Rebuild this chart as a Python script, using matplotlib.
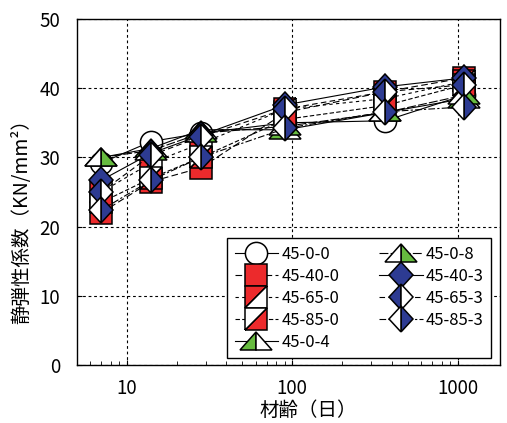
import matplotlib
matplotlib.use("Agg")
import matplotlib.pyplot as plt
from matplotlib.markers import MarkerStyle
from matplotlib.transforms import Affine2D

plt.rcParams['font.family'] = ['Noto Sans CJK JP', 'DejaVu Sans']

# age in days
age = [7, 14, 28, 91, 365, 1095]

# static modulus of elasticity (KN/mm2) per mix
e_45_0_0 = [29.2, 32.3, 33.5, 35.0, 35.3, 39.0]
e_45_40_0 = [22.0, 26.5, 28.5, 36.5, 39.5, 41.5]
e_45_65_0 = [25.0, 29.2, 32.0, 37.0, 38.5, 41.0]
e_45_85_0 = [23.5, 27.0, 30.0, 35.5, 37.5, 40.5]
e_45_0_4 = [30.0, 31.3, 34.0, 34.0, 36.5, 38.5]
e_45_0_8 = [30.0, 31.0, 33.5, 34.5, 36.5, 39.0]
e_45_40_3 = [26.7, 30.6, 33.2, 37.6, 40.2, 41.5]
e_45_65_3 = [25.0, 30.3, 33.0, 37.0, 39.5, 40.5]
e_45_85_3 = [22.4, 26.7, 30.0, 34.2, 36.6, 37.3]

labels = ['45-0-0', '45-40-0', '45-65-0', '45-85-0', '45-0-4',
          '45-0-8', '45-40-3', '45-65-3', '45-85-3']

RED = '#ec2a2c'
GREEN = '#66bb3f'
BLUE = '#2d3b92'


def sq_diag(fill):
    # square split along a diagonal: a diamond turned back by 45 degrees
    return MarkerStyle('D', fillstyle=fill, transform=Affine2D().rotate_deg(-45))


def tri(fill):
    return MarkerStyle('^', fillstyle=fill, transform=Affine2D().scale(1.45, 0.8))


def dia(fill):
    return MarkerStyle('D', fillstyle=fill, transform=Affine2D().scale(0.74, 0.8))


series = [
    (e_45_0_0, MarkerStyle('o', fillstyle='full'), 'white', '-'),
    (e_45_40_0, MarkerStyle('s', fillstyle='full'), RED, (0, (6, 3))),
    (e_45_65_0, sq_diag('left'), RED, (0, (3, 3))),
    (e_45_85_0, sq_diag('right'), RED, (0, (4, 2))),
    (e_45_0_4, tri('left'), GREEN, '-'),
    (e_45_0_8, tri('right'), GREEN, (0, (8, 2))),
    (e_45_40_3, dia('full'), BLUE, '-'),
    (e_45_65_3, dia('left'), BLUE, (0, (5, 3))),
    (e_45_85_3, dia('right'), BLUE, (0, (6, 2, 2, 2))),
]

fig = plt.figure(figsize=(5.07, 4.23), dpi=100)
ax = fig.add_axes([0.152, 0.137, 0.834, 0.818])

for (vals, mk, col, ls), lab in zip(series, labels):
    ax.plot(age, vals, color='black', lw=0.8, linestyle=ls,
            marker=mk, markersize=16, markerfacecolor=col,
            markerfacecoloralt='white', markeredgecolor='black',
            markeredgewidth=1.1, label=lab)

ax.set_xscale('log')
ax.set_xlim(5, 1800)
ax.set_ylim(0, 50)
ax.set_yticks([0, 10, 20, 30, 40, 50])
ax.set_xticks([10, 100, 1000])
ax.set_xticklabels(['10', '100', '1000'])
ax.tick_params(direction='in', labelsize=13.5)
ax.tick_params(axis='x', pad=9)
ax.tick_params(axis='y', pad=12)
ax.tick_params(which='minor', direction='in', length=3)
ax.grid(True, which='major', color='black', linestyle=(0, (2.5, 2.5)), lw=0.8)
for s in ax.spines.values():
    s.set_linewidth(1.0)

ax.set_xlabel('材齢（日）', fontsize=14)
ax.set_ylabel('静弾性係数（KN/mm²）', fontsize=14)
ax.xaxis.set_label_coords(0.546, -0.1)
ax.yaxis.set_label_coords(-0.106, 0.43)

leg = ax.legend(ncol=2, loc='lower right', bbox_to_anchor=(0.98, 0.02),
                fontsize=12, frameon=True, fancybox=False, edgecolor='black',
                framealpha=1, handlelength=2.6, columnspacing=2.4,
                labelspacing=0.3, borderaxespad=0, handletextpad=0.2,
                borderpad=0.45)
leg.get_frame().set_linewidth(1.0)

fig.savefig('out.png', dpi=100)
